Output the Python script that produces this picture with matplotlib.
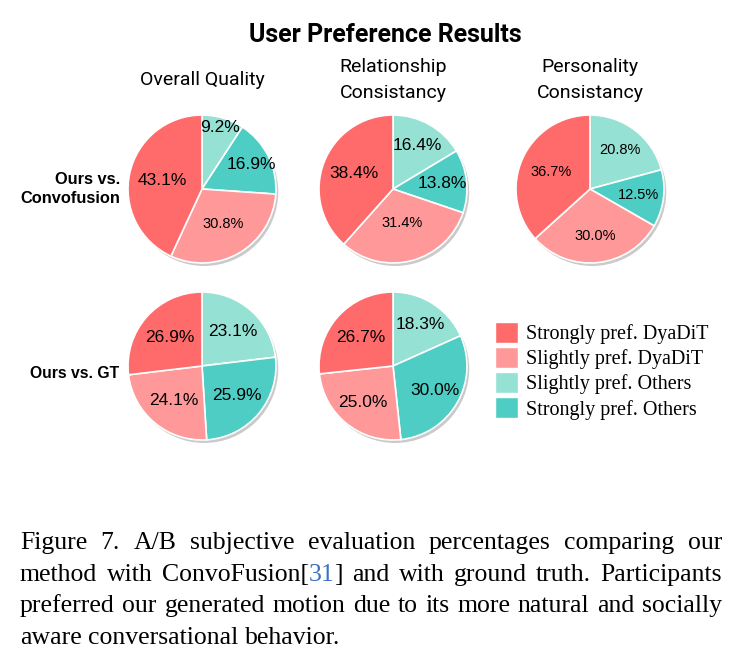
import numpy as np
import matplotlib
matplotlib.use('Agg')
import matplotlib.pyplot as plt
from matplotlib.patches import Patch, Circle

# ---------------------------------------------------------------- data
categories = ['Strongly pref. DyaDiT', 'Slightly pref. DyaDiT',
              'Slightly pref. Others', 'Strongly pref. Others']
col_titles = ['Overall Quality', 'Relationship\nConsistancy', 'Personality\nConsistancy']
row_titles = ['Ours vs.\nConvofusion', 'Ours vs. GT']

# values in legend order
conv_quality = [43.1, 30.8, 9.2, 16.9]
conv_relation = [38.4, 31.4, 16.4, 13.8]
conv_personality = [36.7, 30.0, 20.8, 12.5]
gt_quality = [26.9, 24.1, 23.1, 25.9]
gt_relation = [26.7, 25.0, 18.3, 30.0]

cap_lines = ["Figure 7.  A/B subjective evaluation percentages comparing our",
             "method with ConvoFusion[31] and with ground truth. Participants",
             "preferred our generated motion due to its more natural and socially",
             "aware conversational behavior."]

# ---------------------------------------------------------------- style
W, H = 742, 668
colors = ['#FF6B6B', '#FF9999', '#95E1D3', '#4ECDC4']
draw_order = [2, 3, 1, 0]   # clockwise from top
col_x = [202, 393, 590]
row_y = [189, 366]
R = 74

pies = [(0, 0, conv_quality, [0.86, 0.74, 0.55, 0.55], [12.5, 12.5, 10.5, 12.5]),
        (0, 1, conv_relation, [0.68, 0.67, 0.47, 0.57], [12.5, 12.5, 10.5, 12.5]),
        (0, 2, conv_personality, [0.66, 0.66, 0.64, 0.57], [10.5, 10.5, 10.5, 10.5]),
        (1, 0, gt_quality, [0.63, 0.62, 0.60, 0.58], [12.5, 12.5, 12.5, 12.5]),
        (1, 1, gt_relation, [0.67, 0.66, 0.64, 0.58], [12.5, 12.5, 12.5, 12.5])]

fig = plt.figure(figsize=(W / 100, H / 100), dpi=100)

def fx(x):
    return x / W

def fy(y):
    return 1 - y / H

for row, col, vals, dists, sizes in pies:
    cx, cy = col_x[col], row_y[row]
    ax = fig.add_axes([fx(cx - 1.1 * R), fy(cy + 1.1 * R), 2.2 * R / W, 2.2 * R / H])
    v = [vals[i] for i in draw_order]
    c = [colors[i] for i in draw_order]
    ax.add_patch(Circle((0.03, -0.04), 1.0, fc='#8a8a8a', ec='none', alpha=0.45, zorder=0))
    wedges, texts = ax.pie(v, colors=c, startangle=90, counterclock=False,
                           wedgeprops=dict(edgecolor='white', linewidth=1.2))
    for w in wedges:
        w.set_zorder(2)
    for w, val, d, s in zip(wedges, v, dists, sizes):
        ang = np.deg2rad((w.theta1 + w.theta2) / 2)
        ax.text(d * np.cos(ang), d * np.sin(ang), '%.1f%%' % val, ha='center', va='center',
                fontsize=s, family='Liberation Sans', zorder=3)
    ax.set_xlim(-1.1, 1.1)
    ax.set_ylim(-1.1, 1.1)
    ax.set_aspect('equal')
    ax.axis('off')

# titles
fig.text(fx(385), fy(35), 'User Preference Results', ha='center', va='center',
         fontsize=18, fontweight='bold', family='Roboto')
for x, t in zip(col_x, col_titles):
    fig.text(fx(x), fy(80), t, ha='center', va='center', fontsize=14,
             family='Roboto', linespacing=1.55)
fig.text(fx(120), fy(row_y[0]), row_titles[0], ha='right', va='center', fontsize=11.8,
         fontweight='bold', family='Liberation Sans', linespacing=1.4)
fig.text(fx(119), fy(row_y[1] + 8), row_titles[1], ha='right', va='center', fontsize=11.3,
         fontweight='bold', family='Liberation Sans')

# legend
handles = [Patch(facecolor=c, edgecolor='white') for c in colors]
fig.legend(handles, categories, loc='upper left', bbox_to_anchor=(fx(495), fy(322)),
           frameon=False, prop=dict(family='Liberation Serif', size=14.5),
           handlelength=1.15, handleheight=1.2, handletextpad=0.4,
           labelspacing=0.15, borderpad=0, borderaxespad=0)

# caption, justified
cap_size = 18.5
renderer = fig.canvas.get_renderer()

def word_parts(word):
    if '[31]' in word:
        a, b = word.split('[31]')
        return [(a + '[', 'black'), ('31', '#3a6fc4'), (']' + b, 'black')]
    return [(word, 'black')]

def measure(s):
    t = fig.text(0, 0, s, fontsize=cap_size, family='Liberation Serif')
    w = t.get_window_extent(renderer).width
    t.remove()
    return w

space_w = measure('a a') - measure('aa')
x0, x1 = 20, 722
for i, line in enumerate(cap_lines):
    words = line.split()
    parts = [word_parts(w) for w in words]
    widths = [sum(measure(p) for p, _ in ps) for ps in parts]
    if i < len(cap_lines) - 1:
        gap = (x1 - x0 - sum(widths)) / (len(words) - 1)
    else:
        gap = space_w
    x = x0
    y = 549 + i * 31.7
    for ps, wd in zip(parts, widths):
        xx = x
        for p, col in ps:
            fig.text(fx(xx), fy(y), p, fontsize=cap_size, family='Liberation Serif',
                     color=col, va='baseline', ha='left')
            xx += measure(p)
        x += wd + gap

fig.savefig('out.png', dpi=100)
